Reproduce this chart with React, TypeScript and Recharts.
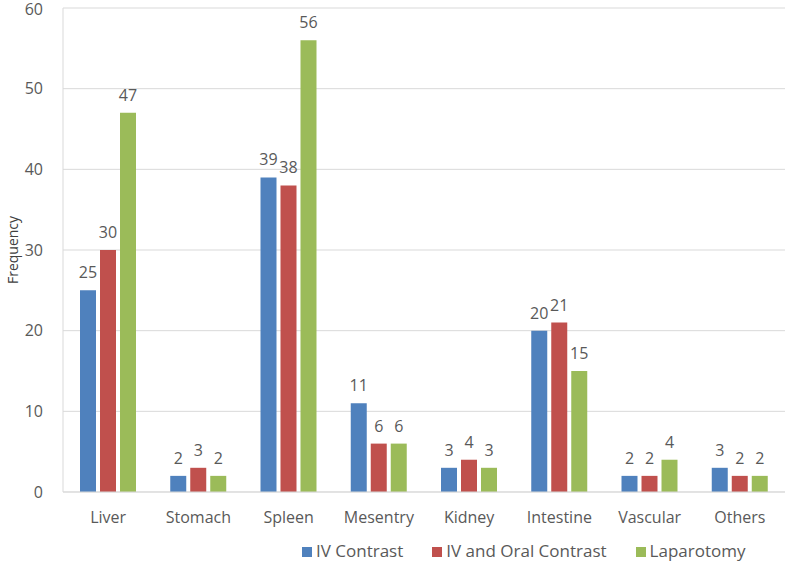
import { Bar, BarChart, CartesianGrid, LabelList, Legend, XAxis, YAxis } from 'recharts';

const categories = ['Liver', 'Stomach', 'Spleen', 'Mesentry', 'Kidney', 'Intestine', 'Vascular', 'Others'];
const ivContrast = [25, 2, 39, 11, 3, 20, 2, 3];
const ivOralContrast = [30, 3, 38, 6, 4, 21, 2, 2];
const laparotomy = [47, 2, 56, 6, 3, 15, 4, 2];
const yTicks = [0, 10, 20, 30, 40, 50, 60];

const data = categories.map((name, i) => ({
  name,
  iv: ivContrast[i],
  ivOral: ivOralContrast[i],
  lap: laparotomy[i],
}));

const FONT = '"Open Sans", sans-serif';
const TEXT = '#595959';

export default function App() {
  return (
    <div style={{ position: 'absolute', left: 0, top: 0, width: 787, height: 564, background: '#fff', fontFamily: FONT }}>
      <BarChart
        width={787}
        height={564}
        data={data}
        margin={{ top: 8, right: 2, bottom: 2, left: 0 }}
        barGap={4}
        barSize={16}
      >
        <CartesianGrid vertical={false} stroke="#d9d9d9" />
        <XAxis
          dataKey="name"
          tickLine={false}
          axisLine={{ stroke: '#d9d9d9' }}
          tick={{ fill: TEXT, fontSize: 16, fontFamily: FONT }}
          tickMargin={14}
          height={47}
        />
        <YAxis
          domain={[0, 60]}
          ticks={yTicks}
          tickLine={false}
          axisLine={{ stroke: '#d9d9d9' }}
          tick={{ fill: TEXT, fontSize: 16, fontFamily: FONT }}
          tickMargin={14}
          width={63}
          label={{ value: 'Frequency', angle: -90, position: 'insideLeft', offset: 13, fill: '#404040', fontSize: 14, fontFamily: FONT, style: { textAnchor: 'middle' } }}
        />
        <Legend
          verticalAlign="bottom"
          align="left"
          iconType="square"
          iconSize={10}
          wrapperStyle={{ left: 302, width: 485, fontSize: 17, fontFamily: FONT, color: TEXT }}
          formatter={(value: string) => <span style={{ color: TEXT, paddingRight: 19 }}>{value}</span>}
        />
        <Bar dataKey="iv" name="IV Contrast" fill="#4F81BD" isAnimationActive={false}>
          <LabelList dataKey="iv" position="top" offset={12} fill={TEXT} fontSize={16} fontFamily={FONT} />
        </Bar>
        <Bar dataKey="ivOral" name="IV and Oral Contrast" fill="#C0504D" isAnimationActive={false}>
          <LabelList dataKey="ivOral" position="top" offset={12} fill={TEXT} fontSize={16} fontFamily={FONT} />
        </Bar>
        <Bar dataKey="lap" name="Laparotomy" fill="#9BBB59" isAnimationActive={false}>
          <LabelList dataKey="lap" position="top" offset={12} fill={TEXT} fontSize={16} fontFamily={FONT} />
        </Bar>
      </BarChart>
    </div>
  );
}
